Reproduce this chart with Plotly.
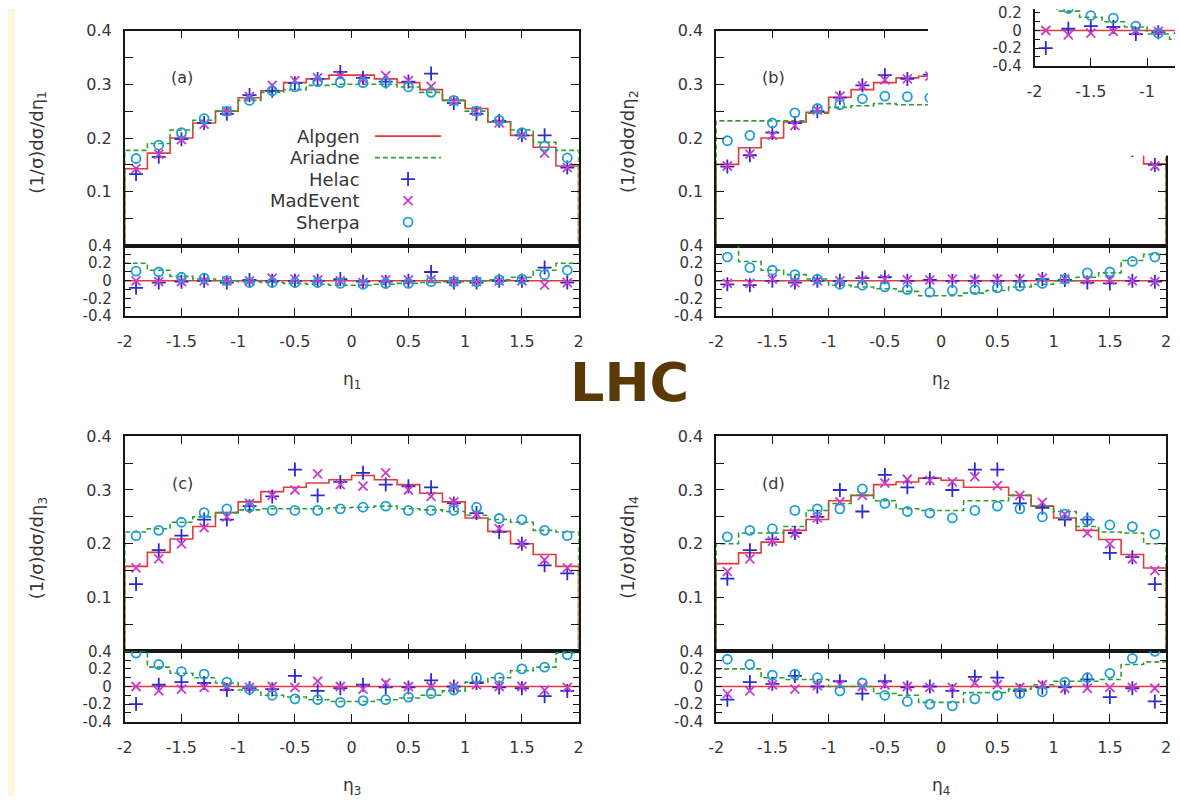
import plotly.graph_objects as go

W, H = 1180, 805

# ---------------------------------------------------------------- data
eta_edges = [-2.0, -1.8, -1.6, -1.4, -1.2, -1.0, -0.8, -0.6, -0.4, -0.2, 0.0,
             0.2, 0.4, 0.6, 0.8, 1.0, 1.2, 1.4, 1.6, 1.8, 2.0]
eta_centers = [-1.9, -1.7, -1.5, -1.3, -1.1, -0.9, -0.7, -0.5, -0.3, -0.1,
               0.1, 0.3, 0.5, 0.7, 0.9, 1.1, 1.3, 1.5, 1.7, 1.9]

generators = ["Alpgen", "Ariadne", "Helac", "MadEvent", "Sherpa"]
x_ticks = [-2, -1.5, -1, -0.5, 0, 0.5, 1, 1.5, 2]
x_tick_labels = ["-2", "-1.5", "-1", "-0.5", "0", "0.5", "1", "1.5", "2"]
dist_ticks = [0.05, 0.1, 0.15, 0.2, 0.25, 0.3, 0.35, 0.4]
dist_tick_labels = ["", "0.1", "", "0.2", "", "0.3", "", "0.4"]
ratio_ticks = [-0.4, -0.3, -0.2, -0.1, 0, 0.1, 0.2, 0.3, 0.4]
ratio_tick_labels = ["-0.4", "", "-0.2", "", "0", "", "0.2", "", "0.4"]

# (a) eta_1
alpgen_a = [0.143, 0.172, 0.200, 0.228, 0.250, 0.275, 0.288, 0.303, 0.310, 0.317,
            0.317, 0.310, 0.303, 0.290, 0.270, 0.255, 0.230, 0.205, 0.183, 0.148]
ariadne_a = [0.177, 0.190, 0.215, 0.233, 0.250, 0.270, 0.285, 0.290, 0.298, 0.300,
             0.300, 0.300, 0.295, 0.285, 0.270, 0.250, 0.230, 0.215, 0.192, 0.177]
helac_a = [0.133, 0.165, 0.198, 0.228, 0.245, 0.280, 0.288, 0.302, 0.310, 0.323,
           0.312, 0.305, 0.305, 0.320, 0.265, 0.245, 0.232, 0.205, 0.205, 0.145]
madevent_a = [0.143, 0.170, 0.197, 0.226, 0.250, 0.277, 0.298, 0.307, 0.312, 0.316,
              0.310, 0.316, 0.307, 0.296, 0.268, 0.250, 0.228, 0.205, 0.172, 0.145]
sherpa_a = [0.162, 0.187, 0.210, 0.236, 0.250, 0.270, 0.288, 0.295, 0.305, 0.303,
            0.303, 0.303, 0.295, 0.285, 0.270, 0.250, 0.233, 0.210, 0.185, 0.163]
ariadne_a_r = [0.20, 0.12, 0.05, 0.02, 0.00, -0.01, -0.02, -0.03, -0.04, -0.05,
               -0.05, -0.04, -0.03, -0.02, -0.01, 0.00, 0.01, 0.04, 0.12, 0.20]
helac_a_r = [-0.08, -0.02, -0.01, 0.00, -0.02, 0.01, 0.00, 0.00, 0.00, 0.02,
             -0.01, -0.01, 0.00, 0.10, -0.02, -0.02, 0.00, 0.00, 0.15, -0.02]
madevent_a_r = [0.00, -0.01, -0.01, 0.00, 0.00, 0.00, 0.03, 0.02, 0.01, 0.00,
                -0.02, 0.01, 0.01, 0.01, -0.01, -0.01, 0.00, 0.00, -0.05, -0.02]
sherpa_a_r = [0.11, 0.10, 0.04, 0.03, 0.00, -0.02, -0.02, -0.02, -0.02, -0.03,
              -0.04, -0.03, -0.03, -0.01, -0.01, -0.01, 0.01, 0.02, 0.07, 0.12]

# (b) eta_2
alpgen_b = [0.151, 0.182, 0.200, 0.230, 0.248, 0.276, 0.290, 0.303, 0.312, 0.315,
            0.315, 0.312, 0.305, 0.290, 0.275, 0.250, 0.230, 0.200, 0.178, 0.152]
ariadne_b = [0.232, 0.232, 0.232, 0.232, 0.246, 0.257, 0.260, 0.264, 0.262, 0.262,
             0.262, 0.268, 0.271, 0.270, 0.264, 0.250, 0.239, 0.218, 0.219, 0.198]
helac_b = [0.147, 0.168, 0.210, 0.228, 0.250, 0.275, 0.298, 0.317, 0.310, 0.318,
           0.316, 0.312, 0.305, 0.290, 0.280, 0.252, 0.225, 0.195, 0.178, 0.150]
madevent_b = [0.148, 0.170, 0.205, 0.223, 0.252, 0.278, 0.297, 0.308, 0.310, 0.315,
              0.320, 0.315, 0.310, 0.295, 0.283, 0.255, 0.232, 0.202, 0.178, 0.148]
sherpa_b = [0.195, 0.205, 0.228, 0.247, 0.255, 0.262, 0.273, 0.278, 0.277, 0.275,
            0.280, 0.282, 0.281, 0.273, 0.267, 0.255, 0.251, 0.220, 0.217, 0.193]
ariadne_b_r = [0.45, 0.22, 0.12, 0.07, 0.02, -0.05, -0.07, -0.09, -0.12, -0.17,
               -0.17, -0.14, -0.11, -0.07, -0.04, 0.00, 0.04, 0.09, 0.23, 0.30]
helac_b_r = [-0.04, -0.05, 0.00, -0.02, 0.00, 0.00, 0.03, 0.04, 0.00, 0.01,
             0.00, 0.00, 0.00, 0.00, 0.02, 0.01, -0.02, -0.03, 0.00, -0.01]
madevent_b_r = [-0.03, -0.03, 0.02, -0.02, 0.00, 0.00, 0.01, 0.02, 0.01, 0.01,
                0.02, 0.01, 0.02, 0.02, 0.03, 0.02, 0.01, 0.01, 0.00, -0.01]
sherpa_b_r = [0.27, 0.15, 0.12, 0.07, 0.02, -0.04, -0.05, -0.07, -0.10, -0.13,
              -0.11, -0.10, -0.08, -0.06, -0.03, 0.02, 0.09, 0.10, 0.22, 0.27]

# (c) eta_3
alpgen_c = [0.158, 0.184, 0.209, 0.232, 0.258, 0.278, 0.297, 0.305, 0.313, 0.319,
            0.327, 0.319, 0.310, 0.294, 0.278, 0.248, 0.223, 0.200, 0.180, 0.158]
ariadne_c = [0.222, 0.228, 0.240, 0.250, 0.258, 0.263, 0.265, 0.265, 0.265, 0.267,
             0.268, 0.270, 0.265, 0.263, 0.260, 0.253, 0.245, 0.240, 0.225, 0.222]
helac_c = [0.125, 0.188, 0.215, 0.245, 0.245, 0.270, 0.288, 0.338, 0.290, 0.315,
           0.332, 0.310, 0.307, 0.305, 0.275, 0.257, 0.222, 0.200, 0.160, 0.145]
madevent_c = [0.155, 0.172, 0.200, 0.230, 0.250, 0.275, 0.290, 0.300, 0.330, 0.310,
              0.307, 0.332, 0.300, 0.288, 0.278, 0.255, 0.228, 0.200, 0.170, 0.155]
sherpa_c = [0.215, 0.225, 0.240, 0.258, 0.265, 0.268, 0.262, 0.262, 0.262, 0.265,
            0.268, 0.270, 0.262, 0.262, 0.262, 0.268, 0.247, 0.245, 0.225, 0.215]
ariadne_c_r = [0.40, 0.22, 0.15, 0.10, 0.04, -0.04, -0.10, -0.12, -0.15, -0.17,
               -0.17, -0.15, -0.13, -0.10, -0.05, 0.05, 0.10, 0.18, 0.22, 0.38]
helac_c_r = [-0.20, 0.02, 0.05, 0.04, -0.04, -0.02, -0.03, 0.12, -0.05, -0.02,
             0.02, -0.01, -0.01, 0.07, 0.00, 0.04, -0.01, -0.02, -0.11, -0.05]
madevent_c_r = [0.00, -0.05, -0.03, -0.01, 0.00, -0.01, 0.00, -0.01, 0.06, 0.00,
                -0.03, 0.04, 0.00, 0.00, 0.00, 0.02, 0.00, 0.00, -0.04, -0.01]
sherpa_c_r = [0.38, 0.25, 0.17, 0.14, 0.05, -0.03, -0.10, -0.14, -0.15, -0.18,
              -0.16, -0.15, -0.12, -0.08, -0.04, 0.10, 0.10, 0.20, 0.22, 0.36]

# (d) eta_4
alpgen_d = [0.163, 0.183, 0.203, 0.225, 0.245, 0.280, 0.290, 0.310, 0.315, 0.322,
            0.318, 0.305, 0.305, 0.290, 0.270, 0.248, 0.225, 0.208, 0.180, 0.155]
ariadne_d = [0.200, 0.220, 0.220, 0.232, 0.262, 0.275, 0.290, 0.280, 0.265, 0.262,
             0.262, 0.280, 0.280, 0.290, 0.270, 0.260, 0.232, 0.222, 0.220, 0.200]
helac_d = [0.135, 0.188, 0.208, 0.220, 0.250, 0.300, 0.260, 0.328, 0.305, 0.322,
           0.300, 0.338, 0.338, 0.275, 0.267, 0.245, 0.245, 0.183, 0.175, 0.125]
madevent_d = [0.148, 0.172, 0.205, 0.220, 0.248, 0.278, 0.290, 0.313, 0.320, 0.318,
              0.315, 0.325, 0.308, 0.290, 0.277, 0.255, 0.220, 0.200, 0.172, 0.150]
sherpa_d = [0.213, 0.225, 0.228, 0.262, 0.265, 0.265, 0.302, 0.275, 0.260, 0.257,
            0.248, 0.262, 0.270, 0.265, 0.250, 0.255, 0.243, 0.235, 0.232, 0.218]
ariadne_d_r = [0.20, 0.20, 0.10, 0.08, 0.08, 0.00, 0.00, -0.08, -0.10, -0.18,
               -0.18, -0.07, -0.07, -0.03, 0.02, 0.06, 0.06, 0.08, 0.25, 0.28]
helac_d_r = [-0.15, 0.05, 0.03, 0.12, 0.00, 0.06, -0.08, 0.06, -0.01, 0.00,
             -0.05, 0.11, 0.10, -0.05, -0.01, -0.01, 0.08, -0.12, -0.02, -0.17]
madevent_d_r = [-0.08, -0.05, 0.02, -0.03, 0.01, 0.02, 0.00, 0.02, 0.00, -0.01,
                -0.01, 0.04, 0.02, -0.01, 0.02, -0.02, -0.02, -0.01, -0.01, -0.02]
sherpa_d_r = [0.31, 0.25, 0.13, 0.14, 0.10, -0.05, 0.04, -0.10, -0.17, -0.20,
              -0.22, -0.14, -0.10, -0.08, -0.06, 0.05, 0.10, 0.15, 0.32, 0.40]

# Alpgen is the reference of the ratio panels
alpgen_ratio = [0.0] * 20

# ---------------------------------------------------------------- style
FONT = "DejaVu Sans, Verdana, sans-serif"
TXT = "#363636"
FRAME = "#161616"
C_ALP = "#e23b3b"
C_ARI = "#2f9e2f"
C_HEL = "#2b2bd0"
C_MAD = "#cc3ccc"
C_SHE = "#1c9fd6"


def xd(x0, x1):
    return [x0 / W, x1 / W]


def yd(top, bot):
    return [1 - bot / H, 1 - top / H]


def px(x):
    return x / W


def py(y):
    return 1 - y / H


def label(text, x, y, size, **kw):
    d = dict(text=text, x=px(x), y=py(y), xref="paper", yref="paper",
             xanchor="center", yanchor="middle", showarrow=False,
             font=dict(family=FONT, size=size, color=TXT))
    d.update(kw)
    return d


fig = go.Figure()
layout = {}


def axis_common(**kw):
    d = dict(showline=True, linecolor=FRAME, linewidth=1.6, mirror="ticks",
             ticks="inside", tickcolor=FRAME, tickwidth=1.3, ticklen=8,
             showgrid=False, zeroline=False, fixedrange=True,
             tickfont=dict(family=FONT, size=16, color=TXT))
    d.update(kw)
    return d


def step_xy(vals, drop):
    xs = list(eta_edges)
    ys = list(vals) + [vals[-1]]
    if drop:
        return [eta_edges[0]] + xs + [eta_edges[-1]], [0.0] + ys + [0.0]
    return xs, ys


MARKERS = (("cross-thin", C_HEL, 10), ("x-thin", C_MAD, 9),
           ("circle-open", C_SHE, 9))


def add_series(ax, alp, ari, hel, mad, she, drop):
    xr, yr = step_xy(alp, drop)
    fig.add_trace(go.Scatter(x=xr, y=yr, mode="lines", line_shape="hv",
                             line=dict(color=C_ALP, width=1.6),
                             xaxis="x" + ax, yaxis="y" + ax, hoverinfo="skip"))
    xg, yg = step_xy(ari, drop)
    fig.add_trace(go.Scatter(x=xg, y=yg, mode="lines", line_shape="hv",
                             line=dict(color=C_ARI, width=1.6, dash="5px,3px"),
                             xaxis="x" + ax, yaxis="y" + ax, hoverinfo="skip"))
    for vals, (sym, col, size) in zip((hel, mad, she), MARKERS):
        fig.add_trace(go.Scatter(
            x=eta_centers, y=vals, mode="markers",
            marker=dict(symbol=sym, size=size, color=col,
                        line=dict(color=col, width=1.8)),
            xaxis="x" + ax, yaxis="y" + ax, hoverinfo="skip"))


LEFT = (118, 577)
RIGHT = (716, 1171)
ROW1 = (22, 242, 314)
ROW2 = (437, 657, 729)

panels = [
    ("a", "1", LEFT, ROW1,
     (alpgen_a, ariadne_a, helac_a, madevent_a, sherpa_a),
     (alpgen_ratio, ariadne_a_r, helac_a_r, madevent_a_r, sherpa_a_r)),
    ("b", "2", RIGHT, ROW1,
     (alpgen_b, ariadne_b, helac_b, madevent_b, sherpa_b),
     (alpgen_ratio, ariadne_b_r, helac_b_r, madevent_b_r, sherpa_b_r)),
    ("c", "3", LEFT, ROW2,
     (alpgen_c, ariadne_c, helac_c, madevent_c, sherpa_c),
     (alpgen_ratio, ariadne_c_r, helac_c_r, madevent_c_r, sherpa_c_r)),
    ("d", "4", RIGHT, ROW2,
     (alpgen_d, ariadne_d, helac_d, madevent_d, sherpa_d),
     (alpgen_ratio, ariadne_d_r, helac_d_r, madevent_d_r, sherpa_d_r)),
]

annotations = []
axn = 1
for tag, idx, (x0, x1), (top, mid, bot), dist, ratio in panels:
    up = "" if axn == 1 else str(axn)
    lo = str(axn + 1)
    layout["xaxis" + up] = axis_common(domain=xd(x0, x1), range=[-2, 2],
                                       anchor="y" + up, tickvals=x_ticks,
                                       showticklabels=False)
    layout["yaxis" + up] = axis_common(domain=yd(top, mid), range=[0, 0.4],
                                       anchor="x" + up, tickvals=dist_ticks,
                                       ticktext=dist_tick_labels,
                                       ticklabelstandoff=8)
    layout["xaxis" + lo] = axis_common(domain=xd(x0, x1), range=[-2, 2],
                                       anchor="y" + lo, tickvals=x_ticks,
                                       ticktext=x_tick_labels,
                                       ticklabelstandoff=10)
    layout["yaxis" + lo] = axis_common(domain=yd(mid, bot), range=[-0.4, 0.4],
                                       anchor="x" + lo, tickvals=ratio_ticks,
                                       ticktext=ratio_tick_labels, ticklen=6,
                                       ticklabelstandoff=8,
                                       tickfont=dict(family=FONT, size=15,
                                                     color=TXT))
    add_series(up, *dist, drop=True)
    add_series(lo, *ratio, drop=False)

    annotations.append(label("(%s)" % tag, x0 + 58, top + 48, 16))
    annotations.append(label("(1/σ)dσ/dη<sub>%s</sub>" % idx, x0 - 88,
                             (top + mid) / 2 + 4, 18, textangle=-90))
    annotations.append(label("η<sub>%s</sub>" % idx, (x0 + x1) / 2, bot + 66,
                             17))
    axn += 2

# white patch over the upper right corner, with a copy of the (c) ratio
# panel pasted on top of it
layout["xaxis9"] = dict(domain=xd(930, W), range=[0, 1], visible=False,
                        anchor="y9", fixedrange=True)
layout["yaxis9"] = dict(domain=yd(0, 150), range=[0, 1], visible=False,
                        anchor="x9", fixedrange=True)
fig.add_trace(go.Scatter(x=[0, 1, 1, 0, 0], y=[0, 0, 1, 1, 0], mode="lines",
                         fill="toself", fillcolor="white",
                         line=dict(width=0, color="white"),
                         xaxis="x9", yaxis="y9", hoverinfo="skip"))

ins_left, ins_zero, unit_x, unit_y = 1038, 22, (RIGHT[1] - RIGHT[0]) / 4, 90.0
ins_bottom = ins_zero + 0.4 * unit_y
layout["xaxis10"] = axis_common(domain=xd(ins_left, W),
                                range=[-2, -2 + (W - ins_left) / unit_x],
                                anchor="y10", tickvals=x_ticks,
                                ticktext=x_tick_labels, mirror=False,
                                ticklabelstandoff=10)
layout["yaxis10"] = axis_common(domain=yd(0, ins_bottom),
                                range=[-0.4, ins_zero / unit_y],
                                anchor="x10", tickvals=ratio_ticks,
                                ticktext=ratio_tick_labels, ticklen=6,
                                mirror=False, ticklabelstandoff=8,
                                tickfont=dict(family=FONT, size=15, color=TXT))
add_series("10", alpgen_ratio, ariadne_c_r, helac_c_r, madevent_c_r,
           sherpa_c_r, drop=False)

# key in panel (a): names on the left, samples on the right
leg_rows = [1, 2, 3, 4, 5]
layout["xaxis11"] = dict(domain=xd(371, 438), range=[0, 1], visible=False,
                         anchor="y11", fixedrange=True)
layout["yaxis11"] = dict(domain=yd(119, 229), range=[5.5, 0.5], visible=False,
                         anchor="x11", fixedrange=True)
fig.add_trace(go.Scatter(x=[0, 1], y=[1, 1], mode="lines",
                         line=dict(color=C_ALP, width=1.6),
                         xaxis="x11", yaxis="y11", hoverinfo="skip"))
fig.add_trace(go.Scatter(x=[0, 1], y=[2, 2], mode="lines",
                         line=dict(color=C_ARI, width=1.6, dash="5px,3px"),
                         xaxis="x11", yaxis="y11", hoverinfo="skip"))
for row, (sym, col, size) in zip(leg_rows[2:], MARKERS):
    fig.add_trace(go.Scatter(x=[0.5], y=[row], mode="markers",
                             marker=dict(symbol=sym, size=size, color=col,
                                         line=dict(color=col, width=1.8)),
                             xaxis="x11", yaxis="y11", hoverinfo="skip"))
for row, name in zip(leg_rows, generators):
    annotations.append(label(name, 358, 119 + (row - 0.5) * 22, 18,
                             xanchor="right"))

annotations.append(dict(text="<b>LHC</b>", x=px(628), y=py(382),
                        xref="paper", yref="paper", xanchor="center",
                        yanchor="middle", showarrow=False,
                        font=dict(family="DejaVu Sans", size=54,
                                  color="#5a3906")))

fig.update_layout(
    width=W, height=H, margin=dict(l=0, r=0, t=0, b=0),
    paper_bgcolor="white", plot_bgcolor="rgba(0,0,0,0)",
    showlegend=False, hovermode=False,
    annotations=annotations,
    shapes=[dict(type="rect", xref="paper", yref="paper", x0=0, x1=7 / W,
                 y0=0, y1=1, fillcolor="#fff7da", line=dict(width=0),
                 layer="below")],
    **layout,
)

fig.write_html("out.html")
